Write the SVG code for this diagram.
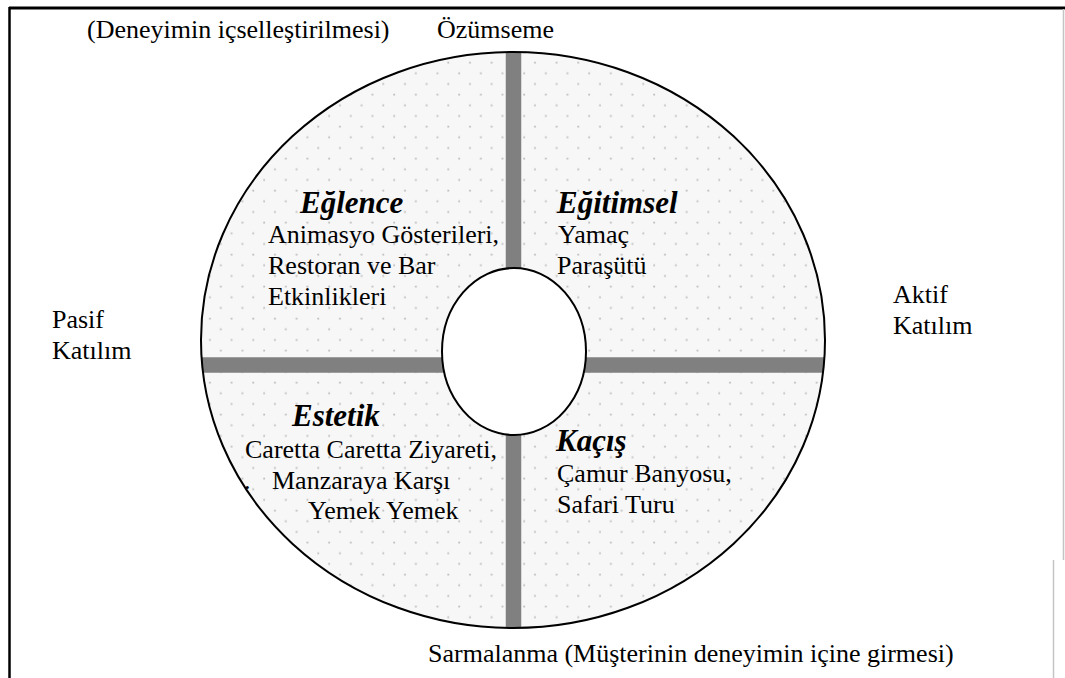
<svg xmlns="http://www.w3.org/2000/svg" width="1065" height="678" viewBox="0 0 1065 678">
  <style>
    .t { font-family: "Liberation Serif", "Times New Roman", serif; font-size: 26px; fill: #000; }
    .h { font-family: "Liberation Serif", "Times New Roman", serif; font-size: 31px; font-weight: bold; font-style: italic; fill: #000; }
    .bar { stroke: #808080; stroke-width: 15.5; fill: none; }
    .ring { stroke: #000; stroke-width: 2; }
  </style>
  <defs>
    <!-- light dotted fill of the experience wheel -->
    <pattern id="dots" patternUnits="userSpaceOnUse" x="0" y="0" width="21.67" height="21.33">
      <rect width="21.67" height="21.33" fill="#f7f7f7"/>
      <rect x="14" y="19.1" width="1.8" height="1.8" fill="#bfbfbf"/>
      <rect x="3.2" y="8.4" width="1.8" height="1.8" fill="#bfbfbf"/>
    </pattern>
    <clipPath id="wheelClip">
      <ellipse cx="513" cy="340" rx="312" ry="288"/>
    </clipPath>
  </defs>

  <rect width="1065" height="678" fill="#fff"/>

  <!-- frame -->
  <g id="frame">
    <line x1="9" y1="8" x2="1065" y2="8" stroke="#000" stroke-width="3"/>
    <line x1="9.5" y1="7" x2="9.5" y2="678" stroke="#000" stroke-width="2.5"/>
    <line x1="1063.5" y1="9" x2="1063.5" y2="560" stroke="#c4c4c4" stroke-width="1.5"/>
    <line x1="1053.5" y1="560" x2="1053.5" y2="678" stroke="#c4c4c4" stroke-width="1.5"/>
  </g>

  <!-- wheel -->
  <g id="wheel">
    <ellipse cx="513" cy="340" rx="312" ry="288" fill="url(#dots)"/>
  </g>

  <!-- axes dividing the four realms -->
  <g id="connectors" clip-path="url(#wheelClip)">
    <line class="bar" x1="513.5" y1="40" x2="513.5" y2="640"/>
    <line class="bar" x1="190" y1="365" x2="836" y2="365"/>
  </g>

  <g id="wheel-outline">
    <ellipse class="ring" cx="513" cy="340" rx="312" ry="288" fill="none"/>
  </g>

  <g id="hub">
    <ellipse class="ring" cx="514" cy="351.5" rx="72" ry="83.5" fill="#fff"/>
  </g>

  <!-- quadrants -->
  <g id="eglence">
    <text class="h" x="300" y="213">Eğlence</text>
    <text class="t" x="268" y="243">Animasyo Gösterileri,</text>
    <text class="t" x="268" y="274">Restoran ve Bar</text>
    <text class="t" x="268" y="305">Etkinlikleri</text>
  </g>

  <g id="egitimsel">
    <text class="h" x="557" y="213">Eğitimsel</text>
    <text class="t" x="558" y="243">Yamaç</text>
    <text class="t" x="557" y="274">Paraşütü</text>
  </g>

  <g id="estetik">
    <text class="h" x="292" y="426">Estetik</text>
    <text class="t" x="245" y="458">Caretta Caretta Ziyareti,</text>
    <text class="t" x="244" y="489">.</text>
    <text class="t" x="272" y="489">Manzaraya Karşı</text>
    <text class="t" x="308" y="519">Yemek Yemek</text>
  </g>

  <g id="kacis">
    <text class="h" x="556" y="451">Kaçış</text>
    <text class="t" x="557" y="482">Çamur Banyosu,</text>
    <text class="t" x="557" y="513">Safari Turu</text>
  </g>

  <!-- axis labels -->
  <g id="label-top">
    <text class="t" x="87" y="38">(Deneyimin içselleştirilmesi)</text>
    <text class="t" x="437" y="38">Özümseme</text>
  </g>

  <g id="label-left">
    <text class="t" x="52" y="328">Pasif</text>
    <text class="t" x="52" y="359">Katılım</text>
  </g>

  <g id="label-right">
    <text class="t" x="893" y="303">Aktif</text>
    <text class="t" x="893" y="334">Katılım</text>
  </g>

  <g id="label-bottom">
    <text class="t" x="428" y="662">Sarmalanma (Müşterinin deneyimin içine girmesi)</text>
  </g>
</svg>
